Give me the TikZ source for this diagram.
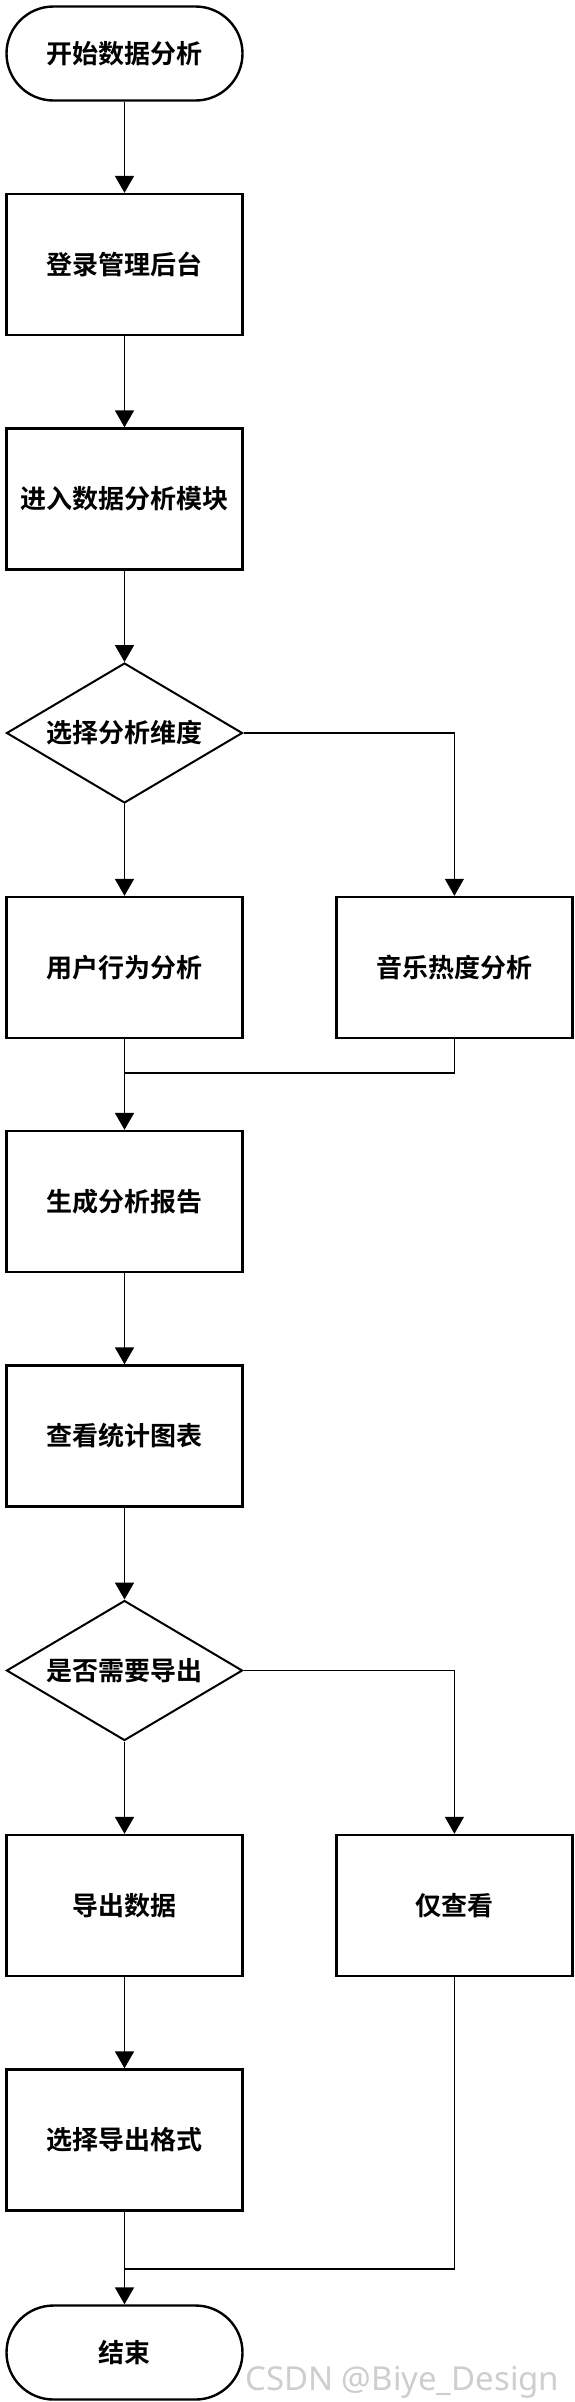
\documentclass[tikz,border=0pt]{standalone}
\usepackage{fontspec}
\newfontfamily\cjk{Noto Sans CJK SC}[BoldFont={Noto Sans CJK SC Bold}]
\newfontfamily\wmfont{Noto Sans}
\usetikzlibrary{shapes.geometric,arrows.meta}
\definecolor{wmgray}{RGB}{206,206,206}

\begin{document}
\begin{tikzpicture}[x=1pt,y=-1pt,
		proc/.style={rectangle,draw,line width=2.4pt,minimum width=236pt,minimum height=141pt},
		term/.style={rectangle,rounded corners=47pt,draw,line width=2.4pt,minimum width=236pt,minimum height=94pt},
		decision/.style={diamond,aspect=1.686,draw,line width=2pt,minimum width=236pt,minimum height=140pt,inner sep=0pt},
		side/.style={draw=black,line width=1.2pt}]
			\useasboundingbox (0,0) rectangle (574,2402);
			\begin{scope}[every node/.style={font=\cjk\bfseries\fontsize{26}{30}\selectfont}]
				\node [term] (start) at (124.5,53.5) {开始数据分析};
				\node [proc] (login) at (124.5,264.5) {登录管理后台};
				\node [proc] (enter) at (124.5,499) {进入数据分析模块};
				\node [decision] (dim) at (124.5,733) {选择分析维度};
				\node [proc] (user) at (124.5,967.5) {用户行为分析};
				\node [proc] (music) at (454.4,967.5) {音乐热度分析};
				\node [proc] (report) at (124.5,1201.5) {生成分析报告};
				\node [proc] (chart) at (124.5,1436) {查看统计图表};
				\node [decision] (need) at (124.5,1670.5) {是否需要导出};
				\node [proc] (out) at (124.5,1905.5) {导出数据};
				\node [proc] (view) at (454.4,1905.5) {仅查看};
				\node [proc] (format) at (124.5,2140) {选择导出格式};
				\node [term] (end) at (124.5,2352.5) {结束};
			\end{scope}
			\coordinate (m1) at (124.5,1073);
			\coordinate (m2) at (124.5,2269);
			
			\begin{scope}[every edge/.style={draw=black,line width=1.8pt}]
				\path [-{Triangle[length=17pt,width=19pt]}] (start) edge (login)
					(login) edge (enter)
					(enter) edge (dim)
					(dim) edge (user)
					(user) edge (report)
					(report) edge (chart)
					(chart) edge (need)
					(need) edge (out)
					(out) edge (format)
					(format) edge (end);
				\draw [side,-{Triangle[length=17pt,width=19pt]}] (dim.east) -| (music.north);
				\draw [side,-{Triangle[length=17pt,width=19pt]}] (need.east) -| (view.north);
				\draw [side] (music.south) |- (m1);
				\draw [side] (view.south) |- (m2);
				%\path (user) edge node {} (music);
			\end{scope}
			
			\node [anchor=base west,inner sep=0pt,text=wmgray,font=\wmfont\fontsize{33}{36}\selectfont] (wm) at (245,2390) {CSDN @Biye\_Design};
		\end{tikzpicture}
\end{document}
